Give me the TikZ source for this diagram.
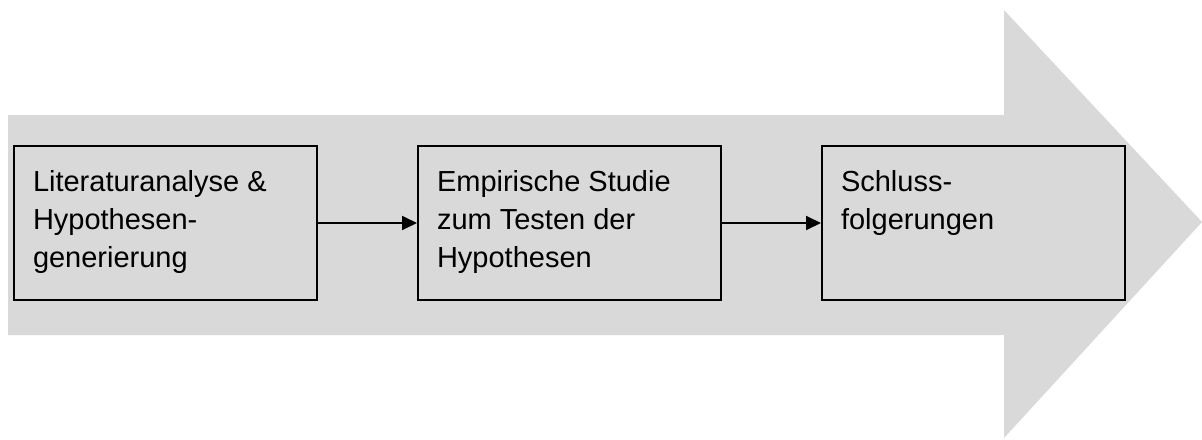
\documentclass[tikz,border=0pt]{standalone}
\usepackage{fontspec}
\setmainfont{Liberation Sans}
\usetikzlibrary{arrows.meta}
\definecolor{bandgray}{RGB}{217,217,217}
\tikzset{
  stepbox/.style={draw=black, line width=1pt, fill=bandgray, anchor=north west,
    inner xsep=9.5pt, inner ysep=11.5pt, align=left},
  conn/.style={line width=0.9pt, -{Triangle[length=7.5pt,width=7pt]}}
}
\newcommand{\boxtext}[1]{\parbox[t][54pt][t]{132.5pt}{\fontsize{14.5pt}{19.2pt}\selectfont\rule{0pt}{11pt}#1}}
\begin{document}
\begin{tikzpicture}[x=0.5pt,y=-0.5pt]
\useasboundingbox (0,0) rectangle (1202,439);
\fill[bandgray] (8,115) -- (1004,115) -- (1004,10) -- (1202,222) -- (1004,438) -- (1004,335) -- (8,335) -- cycle;
\node[stepbox] (b1) at (13,145) {\boxtext{Literaturanalyse \&\\Hypothesen-\\generierung}};
\node[stepbox] (b2) at (417,145) {\boxtext{Empirische Studie\\zum Testen der\\Hypothesen}};
\node[stepbox] (b3) at (821,145) {\boxtext{Schluss-\\folgerungen}};
\draw[conn] (b1.east) -- (b2.west);
\draw[conn] (b2.east) -- (b3.west);
\end{tikzpicture}
\end{document}
